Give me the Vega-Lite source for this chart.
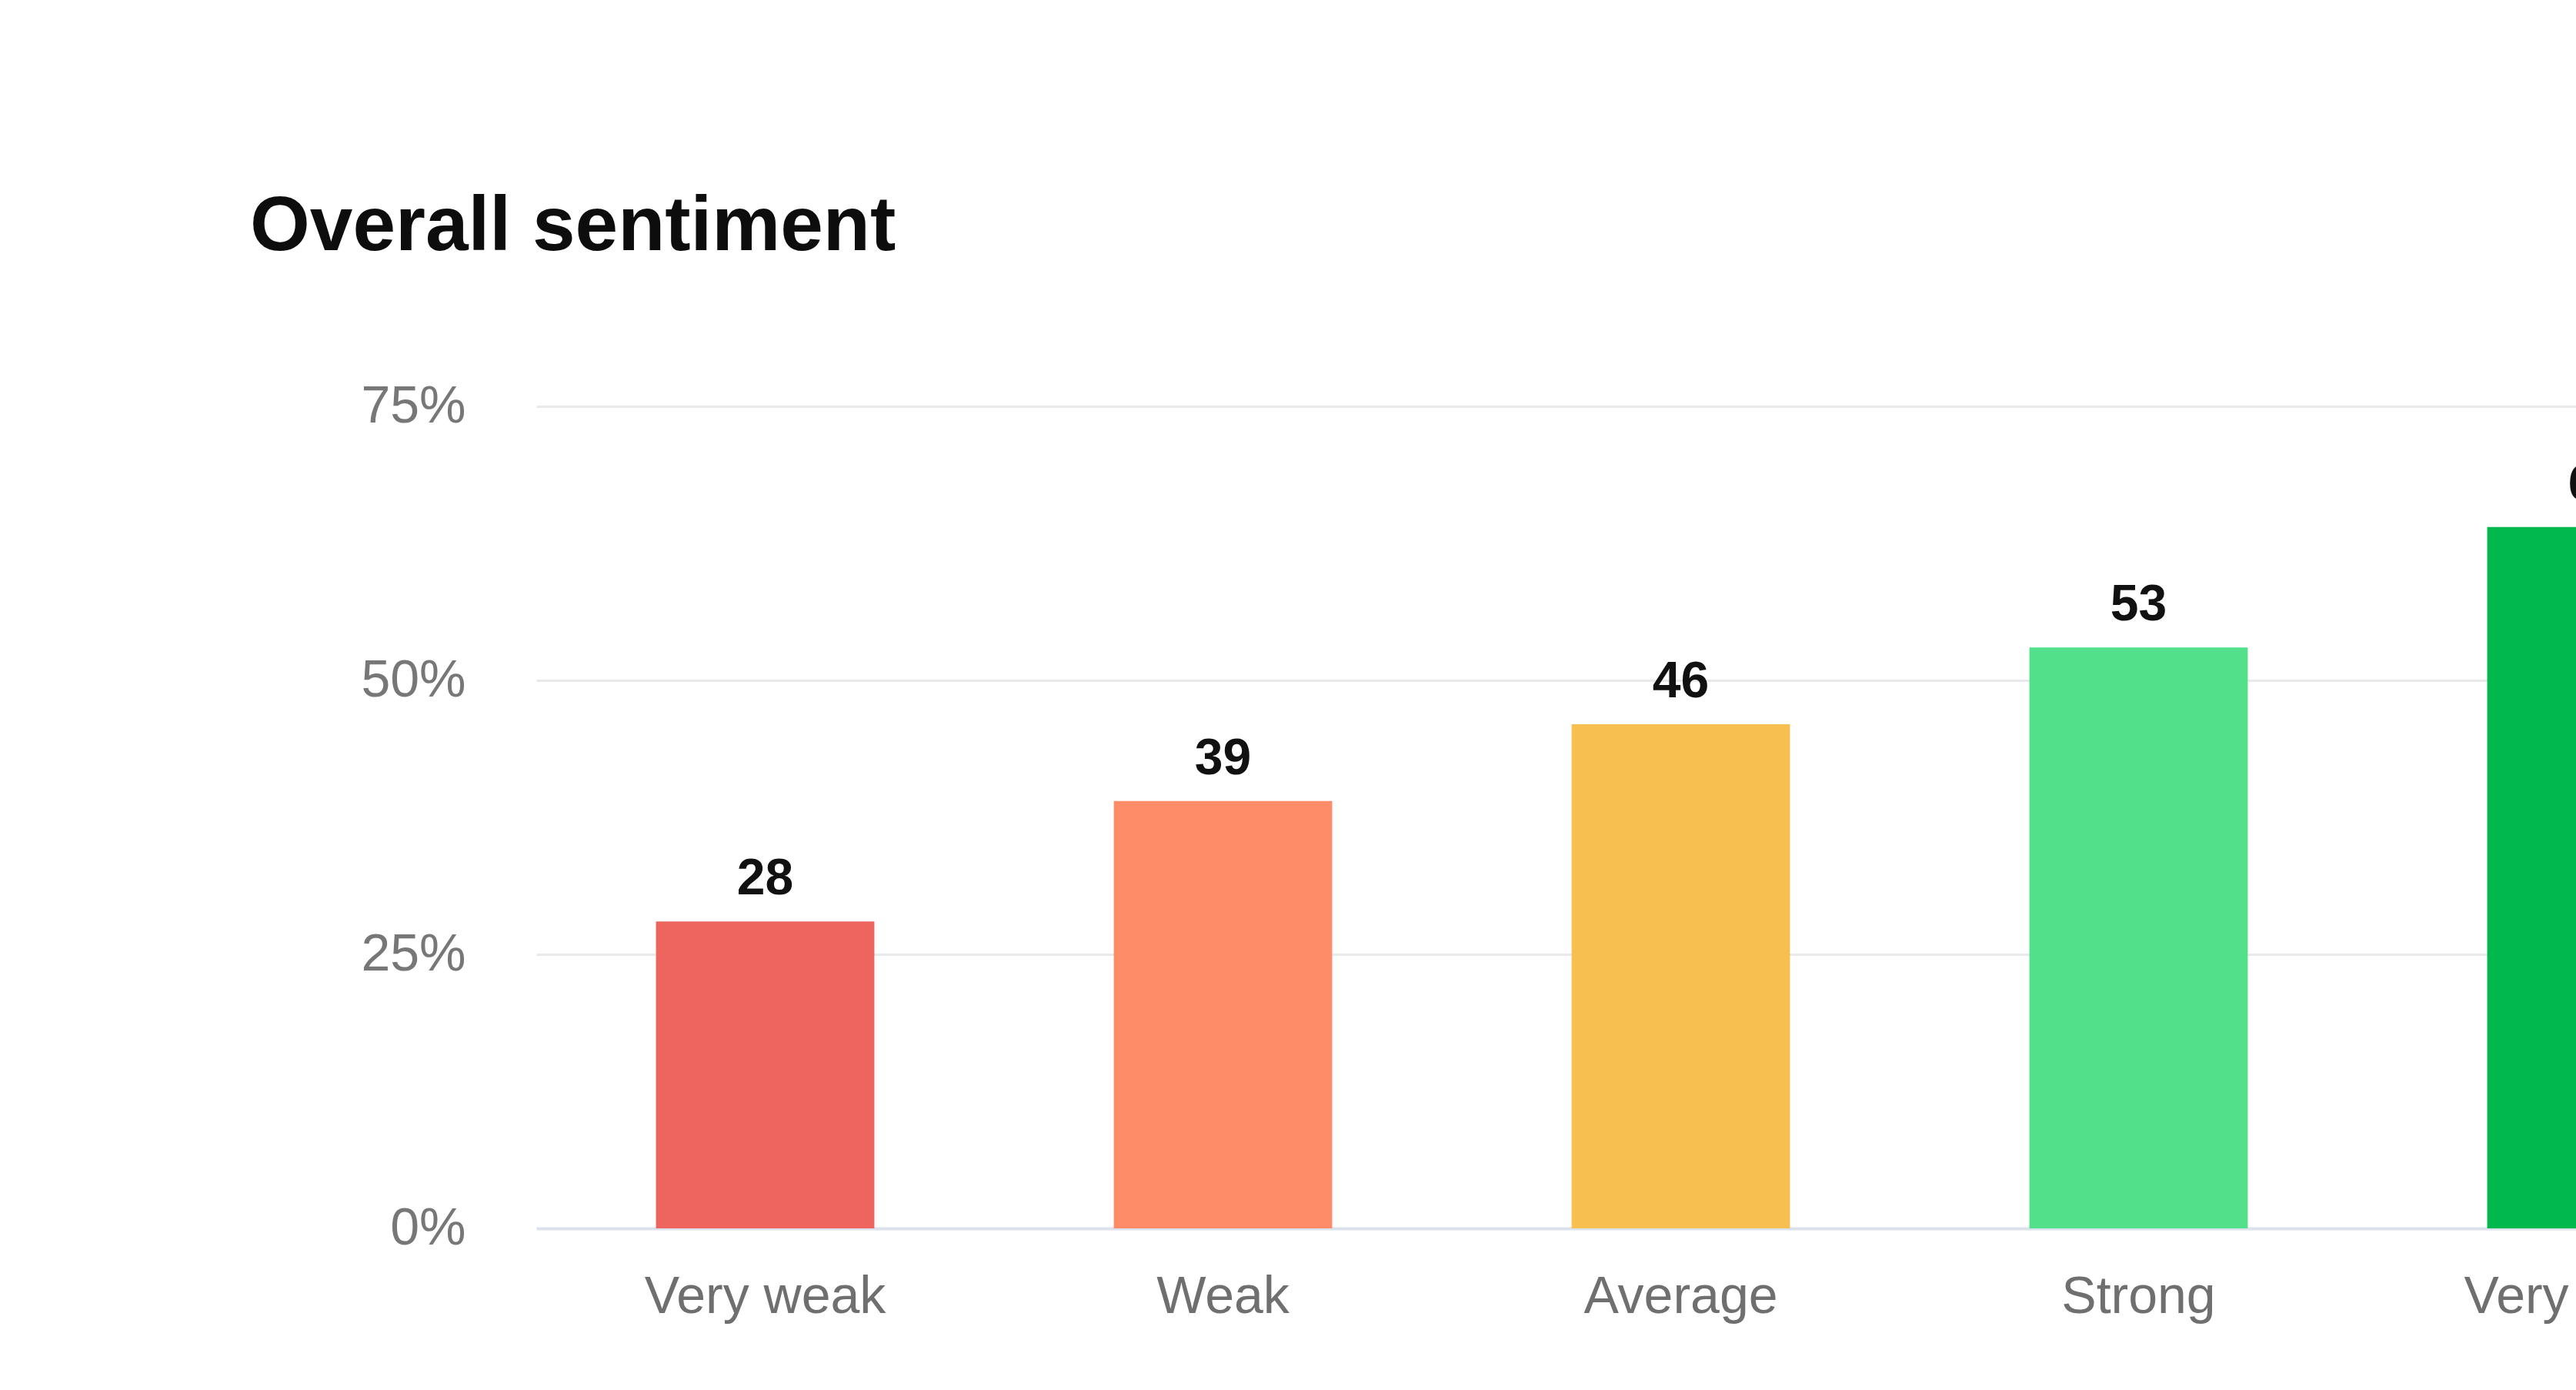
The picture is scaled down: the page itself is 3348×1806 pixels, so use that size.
{
  "$schema": "https://vega.github.io/schema/vega-lite/v6.json",
  "width": 2975,
  "height": 1068,
  "autosize": {"type": "none"},
  "padding": {"left": 697, "top": 528, "right": 10, "bottom": 210},
  "background": "#ffffff",
  "title": {
    "text": "Overall sentiment",
    "anchor": "start",
    "frame": "group",
    "font": "Liberation Sans",
    "fontSize": 100,
    "fontWeight": "bold",
    "color": "#0d0d0d",
    "dx": -372,
    "offset": 69,
    "baseline": "alphabetic"
  },
  "data": {
    "values": [
      {"sentiment": "Very weak", "value": 28},
      {"sentiment": "Weak", "value": 39},
      {"sentiment": "Average", "value": 46},
      {"sentiment": "Strong", "value": 53},
      {"sentiment": "Very strong", "value": 64}
    ]
  },
  "encoding": {
    "x": {
      "field": "sentiment",
      "type": "nominal",
      "sort": ["Very weak", "Weak", "Average", "Strong", "Very strong"],
      "scale": {"paddingInner": 0.523, "paddingOuter": 0.2615},
      "axis": {
        "title": null,
        "labelAngle": 0,
        "labelLimit": 0,
        "labelFont": "Liberation Sans",
        "labelFontSize": 68,
        "labelColor": "#6f6f6f",
        "labelPadding": 55,
        "labelBaseline": "top",
        "ticks": false,
        "domain": true,
        "domainColor": "#dbe2ec",
        "domainWidth": 4,
        "grid": false
      }
    },
    "y": {
      "field": "value",
      "type": "quantitative",
      "scale": {"domain": [0, 75]},
      "axis": {
        "title": null,
        "values": [0, 25, 50, 75],
        "labelExpr": "datum.value + '%'",
        "labelFont": "Liberation Sans",
        "labelFontSize": 68,
        "labelColor": "#777777",
        "labelPadding": 92,
        "ticks": false,
        "domain": false,
        "grid": true,
        "gridColor": "#e8e9eb",
        "gridWidth": 3
      }
    }
  },
  "layer": [
    {
      "mark": {"type": "bar"},
      "encoding": {
        "color": {
          "field": "sentiment",
          "type": "nominal",
          "scale": {
            "domain": ["Very weak", "Weak", "Average", "Strong", "Very strong"],
            "range": ["#ee6560", "#ff8c69", "#f7bf4f", "#53e08a", "#00b84c"]
          },
          "legend": null
        }
      }
    },
    {
      "mark": {
        "type": "text",
        "baseline": "alphabetic",
        "dy": -35,
        "font": "Liberation Sans",
        "fontSize": 66,
        "fontWeight": "bold",
        "color": "#111111"
      },
      "encoding": {
        "text": {"field": "value", "type": "quantitative"}
      }
    }
  ],
  "config": {"view": {"stroke": null}}
}
